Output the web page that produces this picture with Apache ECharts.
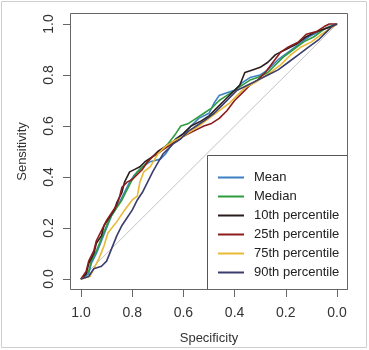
<!DOCTYPE html>
<html>
<head>
<meta charset="utf-8">
<script src="https://cdn.jsdelivr.net/npm/echarts@6/dist/echarts.min.js"></script>
<style>
  html, body { margin: 0; padding: 0; background: #fff; }
  #chart { width: 369px; height: 350px; }
</style>
</head>
<body>
<div id="chart"></div>
<script>
var seriesNames = ['Mean', 'Median', '10th percentile', '25th percentile', '75th percentile', '90th percentile'];
var colors = ['#3b80c4', '#2e9b3e', '#2b1d1d', '#8c1c1c', '#e9b935', '#3a3c6c'];

// [specificity, sensitivity]
var meanRoc = [[1,0],[0.97,0.02],[0.96,0.06],[0.94,0.1],[0.92,0.15],[0.9,0.2],[0.88,0.25],[0.85,0.3],[0.83,0.34],[0.81,0.38],[0.79,0.41],[0.76,0.44],[0.73,0.46],[0.69,0.47],[0.67,0.49],[0.65,0.52],[0.63,0.55],[0.6,0.57],[0.57,0.6],[0.54,0.63],[0.5,0.65],[0.48,0.69],[0.46,0.72],[0.43,0.73],[0.4,0.74],[0.37,0.77],[0.34,0.79],[0.3,0.8],[0.27,0.82],[0.23,0.86],[0.19,0.89],[0.15,0.92],[0.11,0.95],[0.07,0.97],[0.03,0.99],[0,1]];
var medianRoc = [[1,0],[0.97,0.03],[0.96,0.07],[0.94,0.11],[0.92,0.16],[0.9,0.21],[0.88,0.25],[0.86,0.28],[0.84,0.31],[0.82,0.35],[0.8,0.39],[0.78,0.42],[0.75,0.45],[0.72,0.48],[0.69,0.5],[0.66,0.53],[0.63,0.57],[0.61,0.6],[0.58,0.61],[0.55,0.63],[0.52,0.65],[0.49,0.67],[0.46,0.7],[0.43,0.72],[0.4,0.74],[0.37,0.76],[0.34,0.78],[0.31,0.79],[0.27,0.81],[0.24,0.84],[0.21,0.87],[0.17,0.9],[0.13,0.93],[0.09,0.95],[0.05,0.98],[0,1]];
var p10Roc = [[1,0],[0.98,0.02],[0.97,0.06],[0.95,0.1],[0.94,0.14],[0.92,0.17],[0.91,0.21],[0.89,0.24],[0.87,0.27],[0.86,0.3],[0.84,0.34],[0.83,0.38],[0.81,0.42],[0.79,0.43],[0.77,0.44],[0.75,0.46],[0.72,0.48],[0.7,0.5],[0.67,0.52],[0.64,0.54],[0.6,0.57],[0.57,0.6],[0.53,0.62],[0.5,0.64],[0.47,0.67],[0.44,0.7],[0.41,0.73],[0.38,0.76],[0.36,0.81],[0.33,0.82],[0.3,0.83],[0.27,0.85],[0.24,0.88],[0.2,0.9],[0.16,0.92],[0.12,0.95],[0.08,0.97],[0.05,0.98],[0.02,0.99],[0,1]];
var p25Roc = [[1,0],[0.98,0.03],[0.97,0.07],[0.95,0.11],[0.94,0.15],[0.92,0.19],[0.9,0.23],[0.88,0.26],[0.86,0.29],[0.85,0.32],[0.84,0.36],[0.82,0.38],[0.8,0.39],[0.78,0.41],[0.76,0.43],[0.74,0.46],[0.72,0.48],[0.69,0.5],[0.66,0.52],[0.63,0.54],[0.6,0.56],[0.56,0.58],[0.52,0.6],[0.49,0.61],[0.46,0.63],[0.43,0.66],[0.4,0.7],[0.37,0.73],[0.34,0.76],[0.31,0.78],[0.28,0.81],[0.25,0.85],[0.22,0.89],[0.19,0.91],[0.15,0.93],[0.12,0.96],[0.08,0.97],[0.05,0.99],[0.03,1],[0,1]];
var p75Roc = [[1,0],[0.965,0.01],[0.95,0.04],[0.93,0.08],[0.91,0.13],[0.895,0.18],[0.86,0.225],[0.83,0.27],[0.8,0.31],[0.78,0.325],[0.77,0.38],[0.755,0.42],[0.73,0.44],[0.7,0.49],[0.67,0.52],[0.64,0.54],[0.6,0.56],[0.57,0.58],[0.54,0.6],[0.5,0.63],[0.46,0.66],[0.42,0.69],[0.39,0.72],[0.36,0.75],[0.32,0.77],[0.29,0.79],[0.26,0.81],[0.22,0.84],[0.18,0.88],[0.14,0.91],[0.1,0.93],[0.06,0.96],[0.03,0.98],[0,1]];
var p90Roc = [[1,0],[0.97,0.01],[0.95,0.04],[0.92,0.05],[0.9,0.07],[0.88,0.12],[0.86,0.17],[0.84,0.21],[0.82,0.24],[0.8,0.27],[0.78,0.31],[0.76,0.34],[0.74,0.38],[0.72,0.42],[0.7,0.455],[0.68,0.49],[0.66,0.51],[0.64,0.53],[0.61,0.55],[0.58,0.58],[0.55,0.6],[0.52,0.62],[0.48,0.65],[0.45,0.68],[0.42,0.71],[0.39,0.74],[0.35,0.76],[0.31,0.78],[0.27,0.8],[0.23,0.82],[0.19,0.85],[0.15,0.88],[0.11,0.91],[0.07,0.94],[0.04,0.97],[0.02,0.99],[0,1]];
var diagonal = [[1.043,-0.043],[-0.043,1.043]];

var allRoc = [meanRoc, medianRoc, p10Roc, p25Roc, p75Roc, p90Roc];
var font = '"Liberation Sans", Arial, sans-serif';

var series = [{
  name: 'ref',
  type: 'line',
  data: diagonal,
  symbol: 'none',
  silent: true,
  clip: false,
  lineStyle: { color: '#c4c4c4', width: 1 },
  z: 1
}];
for (var i = 0; i < allRoc.length; i++) {
  series.push({
    name: seriesNames[i],
    type: 'line',
    data: allRoc[i],
    symbol: 'none',
    clip: false,
    lineStyle: { color: colors[i], width: 1.6 },
    itemStyle: { color: colors[i] },
    z: 2
  });
}

var chart = echarts.init(document.getElementById('chart'));
chart.setOption({
  animation: false,
  backgroundColor: '#fff',
  textStyle: { fontFamily: font },
  // grid spans 0..1 on both axes; the R plot box sits 11px outside it
  grid: { left: 81, right: 32, top: 24, bottom: 70 },
  xAxis: {
    type: 'value', inverse: true, min: 0, max: 1, interval: 0.2,
    offset: 11,
    name: 'Specificity', nameLocation: 'middle', nameGap: 42,
    nameTextStyle: { fontSize: 13, color: '#333', fontFamily: font },
    axisLine: { show: false, onZero: false },
    splitLine: { show: false },
    axisTick: { show: true, length: 7, lineStyle: { color: '#666' } },
    axisLabel: {
      margin: 16, fontSize: 14, color: '#333', fontFamily: font,
      formatter: function (v) { return v.toFixed(1); }
    }
  },
  yAxis: {
    type: 'value', min: 0, max: 1, interval: 0.2,
    offset: 11,
    name: 'Sensitivity', nameLocation: 'middle', nameGap: 41, nameRotate: 90,
    nameTextStyle: { fontSize: 13, color: '#333', fontFamily: font },
    axisLine: { show: false, onZero: false },
    splitLine: { show: false },
    axisTick: { show: true, length: 7, lineStyle: { color: '#666' } },
    axisLabel: {
      margin: 14, fontSize: 14, color: '#333', fontFamily: font, rotate: 90,
      formatter: function (v) { return v.toFixed(1); }
    }
  },
  legend: {
    data: seriesNames,
    orient: 'vertical',
    left: 207, top: 155,
    padding: [16, 7, 10, 11],
    icon: 'rect',
    itemWidth: 26, itemHeight: 2, itemGap: 6,
    textStyle: { fontSize: 13, color: '#222', fontFamily: font, padding: [0, 0, 0, 5] },
    z: 5
  },
  graphic: [
    {
      type: 'rect', z: 3,
      shape: { x: 207.5, y: 155.5, width: 140, height: 134 },
      style: { fill: '#fff', stroke: '#555', lineWidth: 1 }
    },
    {
      type: 'rect', z: 4,
      shape: { x: 70.5, y: 13.5, width: 277, height: 276 },
      style: { fill: 'none', stroke: '#666', lineWidth: 1 }
    },
    {
      type: 'rect', z: 0,
      shape: { x: 1.5, y: 1.5, width: 365, height: 346 },
      style: { fill: 'none', stroke: '#cfcfcf', lineWidth: 1 }
    }
  ],
  series: series
});
</script>
</body>
</html>
